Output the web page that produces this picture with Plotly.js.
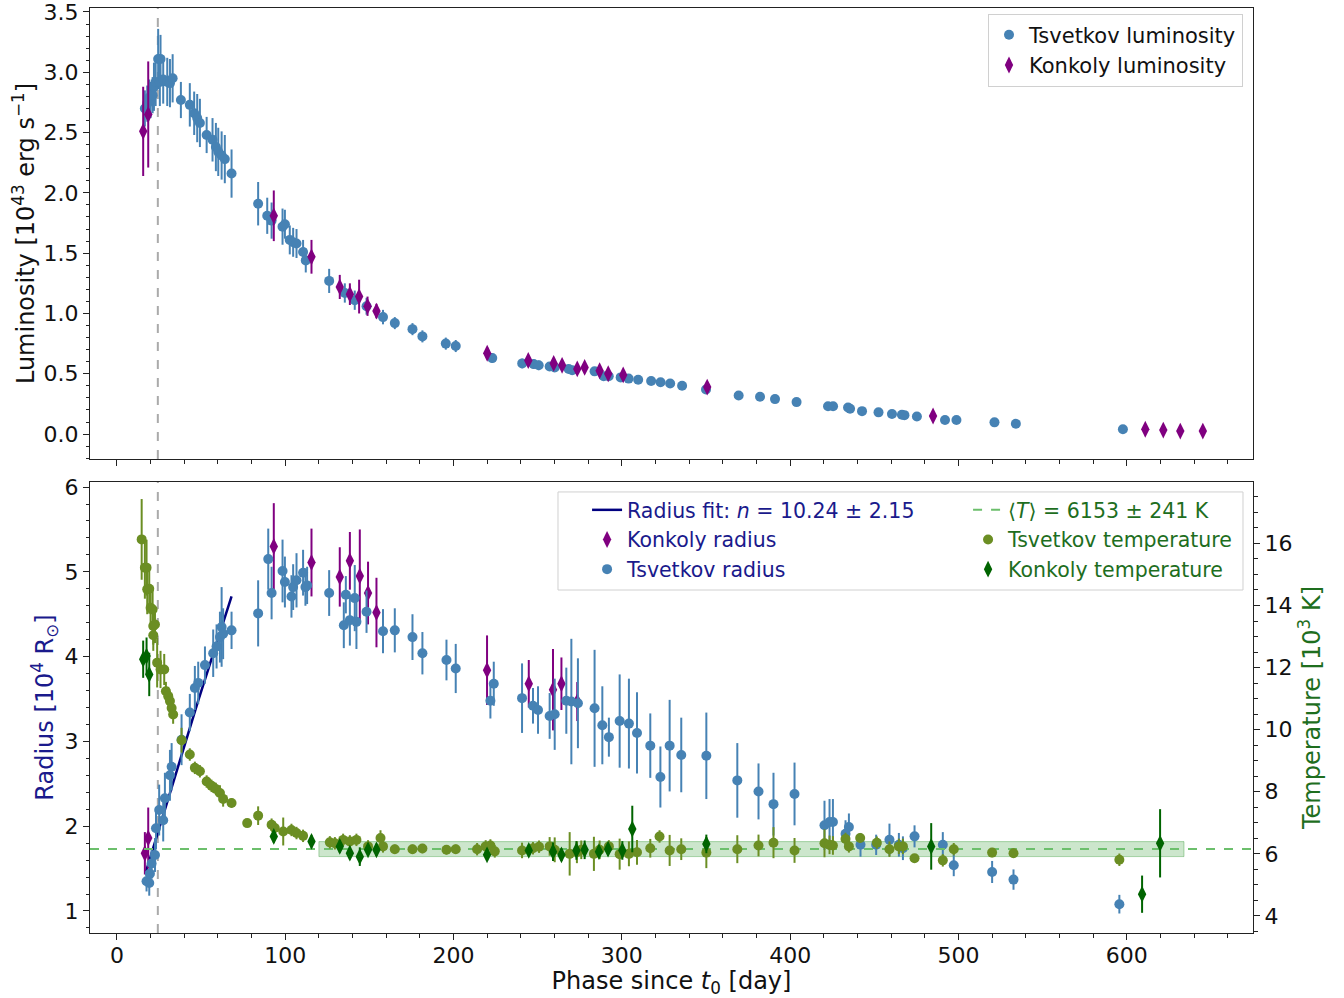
<!DOCTYPE html>
<html>
<head>
<meta charset="utf-8">
<script src="https://cdn.plot.ly/plotly-3.0.1.min.js"></script>
<style>html,body{margin:0;padding:0;background:#fff;}#chart{width:1344px;height:998px;}</style>
</head>
<body>
<div id="chart"></div>
<script>
// ---------- Data ----------
const tsvLumDay = [16.6,18.0,19.2,20.0,21.2,22.0,23.0,24.5,25.5,25.9,27.5,29.9,31.5,33.1,38.0,43.3,45.9,47.7,49.3,53.3,56.8,58.8,60.2,62.2,64.1,68.1,83.9,89.3,91.9,98.4,99.8,102.7,104.7,106.7,110.6,112.2,126.1,135.4,141.3,148.3,158.1,165.1,175.6,181.5,195.4,201.3,223.0,240.8,247.6,250.6,257.1,260.1,268.4,270.5,283.8,289.2,292.2,299.3,304.0,309.7,317.4,323.0,328.7,335.8,350.0,369.4,382.1,391.0,403.8,422.5,425.5,434.4,435.6,442.7,452.5,460.5,466.4,467.9,475.3,492.0,498.8,521.4,534.1,597.7];
const tsvLum = [2.70,2.74,2.79,2.77,2.81,2.88,2.92,3.11,2.92,3.11,2.94,2.92,2.91,2.95,2.77,2.73,2.66,2.62,2.58,2.48,2.44,2.38,2.34,2.31,2.28,2.16,1.91,1.81,1.77,1.72,1.74,1.61,1.59,1.58,1.51,1.44,1.27,1.17,1.11,1.06,0.97,0.92,0.87,0.81,0.75,0.73,0.63,0.586,0.58,0.57,0.56,0.553,0.54,0.53,0.52,0.48,0.48,0.47,0.46,0.45,0.44,0.43,0.42,0.40,0.37,0.32,0.31,0.29,0.265,0.23,0.23,0.22,0.21,0.19,0.18,0.166,0.16,0.157,0.145,0.116,0.116,0.097,0.086,0.04];
const tsvLumErr = [0.15,0.15,0.15,0.15,0.15,0.2,0.2,0.25,0.2,0.2,0.2,0.2,0.2,0.2,0.15,0.18,0.18,0.2,0.2,0.15,0.18,0.2,0.2,0.2,0.2,0.2,0.18,0.15,0.15,0.15,0.12,0.12,0.12,0.12,0.1,0.1,0.1,0.08,0.08,0.07,0.06,0.05,0.05,0.05,0.05,0.05,0.04,0.04,0.04,0.04,0.03,0.03,0.03,0.03,0.03,0.03,0.03,0.02,0.02,0.02,0.02,0.02,0.02,0.02,0.02,0.01,0.01,0.01,0.01,0.01,0.01,0.01,0.01,0.01,0.01,0.01,0.01,0.01,0.01,0.01,0.01,0.01,0.01,0.01];

const konLumDay = [15.6,18.6,93.2,115.6,132.4,138.4,143.9,148.9,154.2,220.0,244.4,259.5,264.5,273.5,277.9,286.8,291.9,300.8,350.7,484.9,611.0,621.7,631.8,645.2];
const konLum = [2.51,2.65,1.81,1.47,1.22,1.16,1.14,1.06,1.02,0.67,0.61,0.586,0.57,0.54,0.553,0.525,0.50,0.49,0.39,0.15,0.04,0.033,0.025,0.025];
const konLumErr = [0.37,0.44,0.21,0.14,0.1,0.09,0.14,0.08,0.06,0.05,0.04,0.04,0.04,0.03,0.03,0.03,0.03,0.03,0.04,0.03,0.03,0.03,0.03,0.03];

const tsvRadDay = [17.6,19.2,19.6,20.6,22.6,23.2,25.1,27.5,28.5,31.5,32.5,38.4,43.3,46.3,48.3,52.3,57.2,59.2,61.2,62.2,63.1,68.1,83.9,89.9,91.9,98.4,99.8,103.7,104.7,106.7,110.6,112.0,113.0,126.1,134.8,136.0,138.4,141.3,142.3,148.3,158.1,165.1,175.6,181.5,195.8,201.3,221.9,223.9,240.7,247.2,250.2,257.1,260.1,267.0,270.0,273.9,283.8,288.4,292.3,298.7,304.2,309.0,316.9,322.9,328.4,335.3,350.2,368.6,381.2,390.1,402.6,420.4,423.4,425.4,432.9,434.9,441.8,451.1,459.0,464.6,467.0,473.9,490.7,497.2,520.0,532.7,595.6];
const tsvRad = [1.35,1.33,1.44,1.56,1.66,1.975,2.19,2.07,2.33,2.60,2.70,3.02,3.34,3.63,3.69,3.90,4.04,4.12,4.23,4.35,4.27,4.31,4.51,5.15,4.75,5.01,4.88,4.71,4.82,4.90,4.99,4.82,4.84,4.75,4.37,4.73,4.43,4.69,4.41,4.53,4.30,4.31,4.23,4.04,3.96,3.86,3.48,3.68,3.51,3.42,3.37,3.30,3.32,3.48,3.47,3.45,3.39,3.19,3.05,3.24,3.21,3.10,2.95,2.58,2.95,2.84,2.83,2.54,2.41,2.26,2.38,2.01,2.05,2.05,1.91,1.99,1.78,1.78,1.84,1.78,1.74,1.88,1.78,1.54,1.46,1.37,1.08];
const tsvRadErr = [0.12,0.15,0.15,0.18,0.2,0.25,0.3,0.25,0.3,0.3,0.28,0.3,0.22,0.26,0.25,0.22,0.28,0.26,0.3,0.47,0.3,0.22,0.39,0.36,0.31,0.37,0.3,0.25,0.27,0.32,0.27,0.22,0.22,0.27,0.27,0.22,0.3,0.39,0.32,0.25,0.26,0.26,0.27,0.25,0.24,0.29,0.21,0.26,0.41,0.21,0.28,0.27,0.42,0.39,0.74,0.53,0.69,0.46,0.23,0.55,0.53,0.48,0.38,0.36,0.54,0.44,0.51,0.44,0.33,0.37,0.37,0.29,0.27,0.27,0.16,0.16,0.14,0.12,0.19,0.14,0.14,0.13,0.15,0.13,0.13,0.12,0.11];

const konRadDay = [16.6,18.6,93.2,115.6,132.4,138.4,144.3,149.2,154.2,219.9,244.7,259.1,264.1,273.5];
const konRad = [1.68,1.86,5.30,5.11,4.94,5.13,4.95,4.75,4.52,3.84,3.68,3.61,3.68,3.47];
const konRadErr = [0.25,0.36,0.51,0.40,0.35,0.34,0.55,0.37,0.41,0.41,0.28,0.48,0.31,0.23];

const tsvTempDay = [14.7,16.6,17.6,18.0,19.2,20.0,21.2,21.6,22.6,21.6,23.9,25.9,28.1,29.1,30.5,31.5,32.5,33.4,38.4,43.3,46.3,49.3,53.3,56.2,58.8,61.2,63.1,68.1,77.4,83.9,91.9,93.8,98.8,103.7,106.7,110.6,126.5,129.5,134.4,138.4,142.3,149.2,156.6,158.1,165.1,175.6,181.5,195.8,201.3,214.0,219.1,221.9,224.5,240.7,247.2,250.8,257.1,260.1,269.0,273.3,275.9,283.4,286.8,292.3,298.7,304.2,309.0,316.9,322.4,328.4,335.3,350.2,368.6,381.2,390.1,402.6,420.4,423.4,425.4,432.9,434.9,441.6,451.5,459.0,464.6,467.0,473.9,490.7,497.2,520.0,532.7,595.6];
const tsvTemp = [16.13,15.22,15.22,14.52,14.54,13.93,13.87,13.34,13.39,13.04,12.16,11.94,11.94,11.24,11.08,10.92,10.70,10.49,9.66,9.20,8.77,8.66,8.33,8.19,8.09,7.96,7.77,7.64,6.99,7.23,6.94,6.83,6.72,6.77,6.67,6.58,6.37,6.34,6.45,6.40,6.45,6.24,6.51,6.24,6.15,6.15,6.17,6.13,6.15,6.15,6.24,6.27,6.08,6.11,6.18,6.23,6.24,6.13,6.00,6.05,6.13,6.00,6.13,6.24,5.99,6.00,6.05,6.18,6.56,6.11,6.15,6.04,6.15,6.27,6.36,6.11,6.34,6.29,6.27,6.48,6.24,6.51,6.36,6.15,6.24,6.24,5.86,5.79,6.15,6.04,6.02,5.81];
const tsvTempErr = [1.3,1.0,0.9,0.8,0.8,0.7,0.7,0.6,0.6,0.5,0.8,0.6,0.5,0.3,0.3,0.3,0.3,0.3,0.4,0.2,0.2,0.2,0.2,0.2,0.2,0.25,0.25,0.15,0.1,0.3,0.2,0.2,0.45,0.2,0.2,0.2,0.2,0.2,0.2,0.2,0.2,0.2,0.25,0.2,0.15,0.15,0.15,0.15,0.15,0.2,0.2,0.2,0.2,0.25,0.2,0.2,0.3,0.4,0.7,0.35,0.3,0.55,0.3,0.2,0.5,0.4,0.4,0.3,0.2,0.5,0.35,0.5,0.45,0.35,0.5,0.4,0.45,0.3,0.3,0.2,0.2,0.15,0.2,0.25,0.25,0.25,0.1,0.2,0.2,0.15,0.15,0.2];

const konTempDay = [15.6,17.6,19.2,93.2,115.6,132.4,138.4,144.3,149.2,154.2,219.9,244.7,259.1,264.1,273.0,277.9,286.4,291.8,300.3,306.2,350.2,483.8,609.1,619.8];
const konTemp = [12.27,12.37,11.78,6.56,6.40,6.24,6.02,5.91,6.13,6.13,5.97,6.11,6.07,5.97,6.11,6.13,6.07,6.15,6.11,6.80,6.32,6.24,4.70,6.34];
const konTempErr = [0.6,0.6,0.7,0.2,0.2,0.2,0.2,0.3,0.2,0.2,0.2,0.15,0.3,0.2,0.3,0.3,0.2,0.2,0.3,0.75,0.3,0.75,0.6,1.1];

const fitDay = [17.2, 48.3, 68.1];
const fitRad = [1.46, 3.48, 4.71];

const tMean = 6.153, tMeanErr = 0.241;
const bandDays = [120, 634];
const tRef = 24.3;
const xRange = [-16, 675];

const lumTicks = [0.0, 0.5, 1.0, 1.5, 2.0, 2.5, 3.0, 3.5];
const radTicks = [1, 2, 3, 4, 5, 6];
const tempTicks = [4, 6, 8, 10, 12, 14, 16];
const dayTicks = [0, 100, 200, 300, 400, 500, 600];

// ---------- Styles ----------
const FONT = 'DejaVu Sans, Liberation Sans, sans-serif';
const C_TSV = '#4682b4', C_KON = '#800080', C_OLIVE = '#6b8e23', C_DKG = '#006400';
const C_NAVY = '#000080', C_MEAN = '#6cbf6c';

function pts(x, y, err, color, symbol, name, xa, ya, legend) {
  const tall = symbol === 'diamond-tall';
  return {
    type: 'scatter', mode: 'markers', x: x, y: y, name: name,
    xaxis: xa, yaxis: ya, legend: legend,
    marker: {color: color, size: tall ? 12 : 10, symbol: symbol, line: {width: 0}},
    error_y: {type: 'data', array: err, visible: true, color: color, thickness: 2, width: 0}
  };
}

const traces = [
  pts(tsvLumDay, tsvLum, tsvLumErr, C_TSV, 'circle', 'Tsvetkov luminosity', 'x', 'y', 'legend'),
  pts(konLumDay, konLum, konLumErr, C_KON, 'diamond-tall', 'Konkoly luminosity', 'x', 'y', 'legend'),
  {type:'scatter', mode:'lines', x: fitDay, y: fitRad, xaxis:'x2', yaxis:'y2', legend:'legend2',
   name:'Radius fit: <i>n</i> = 10.24 ± 2.15', line:{color:C_NAVY, width:2.5}},
  pts(konRadDay, konRad, konRadErr, C_KON, 'diamond-tall', 'Konkoly radius', 'x2', 'y2', 'legend2'),
  pts(tsvRadDay, tsvRad, tsvRadErr, C_TSV, 'circle', 'Tsvetkov radius', 'x2', 'y2', 'legend2'),
  {type:'scatter', mode:'lines', x: xRange, y: [tMean, tMean], xaxis:'x2', yaxis:'y3', legend:'legend3',
   name:'⟨<i>T</i>⟩ = 6153 ± 241 K', line:{color:C_MEAN, width:2, dash:'dash'}},
  pts(tsvTempDay, tsvTemp, tsvTempErr, C_OLIVE, 'circle', 'Tsvetkov temperature', 'x2', 'y3', 'legend3'),
  pts(konTempDay, konTemp, konTempErr, C_DKG, 'diamond-tall', 'Konkoly temperature', 'x2', 'y3', 'legend3')
];

const tickFont = {family: FONT, size: 22, color: '#111'};
const axisBase = {
  showline: true, linecolor: '#222', linewidth: 1, mirror: true,
  ticks: 'outside', ticklen: 6, tickwidth: 1, tickcolor: '#222',
  showgrid: false, zeroline: false, tickfont: tickFont, ticklabeloverflow: 'allow'
};
const minorTick = (d) => ({dtick: d, tick0: 0, ticklen: 3.5, tickcolor: '#222', ticks: 'outside'});

const topLow = 0.5124, botHigh = 0.4876;

const layout = {
  width: 1344, height: 998,
  margin: {l: 90, r: 91, t: 8, b: 65},
  paper_bgcolor: '#fff', plot_bgcolor: '#fff',
  font: {family: FONT, size: 20, color: '#111'},
  showlegend: true,
  xaxis: Object.assign({}, axisBase, {
    domain: [0, 1], anchor: 'y', range: xRange, tickmode: 'array', tickvals: dayTicks, showticklabels: false,
    minor: minorTick(20)
  }),
  yaxis: Object.assign({}, axisBase, {
    domain: [topLow, 1], anchor: 'x', range: [-0.207, 3.533], tickmode: 'array', tickvals: lumTicks,
    ticktext: lumTicks.map(v => v.toFixed(1)),
    minor: minorTick(0.1),
    title: {text: 'Luminosity [10<sup>43</sup> erg s<sup>−1</sup>]', font: {family: FONT, size: 24, color: '#111'}, standoff: 2}
  }),
  xaxis2: Object.assign({}, axisBase, {
    domain: [0, 1], anchor: 'y2', matches: 'x', range: xRange, tickmode: 'array', tickvals: dayTicks,
    ticklabelstandoff: -3,
    minor: minorTick(20),
    title: {text: 'Phase since <i>t</i><sub>0</sub> [day]', font: {family: FONT, size: 24, color: '#111'}, standoff: 9}
  }),
  yaxis2: Object.assign({}, axisBase, {
    domain: [0, botHigh], anchor: 'x2', range: [0.74, 6.06], tickmode: 'array', tickvals: radTicks,
    minor: minorTick(0.2),
    title: {text: 'Radius [10<sup>4</sup> R<sub>⊙</sub>]', font: {family: FONT, size: 24, color: '#1a1a8c'}, standoff: 4}
  }),
  yaxis3: Object.assign({}, axisBase, {
    overlaying: 'y2', side: 'right', anchor: 'x2', range: [3.45, 17.98], tickmode: 'array', tickvals: tempTicks,
    minor: minorTick(0.5),
    title: {text: 'Temperature [10<sup>3</sup> K]', font: {family: FONT, size: 24, color: '#1e6e1e'}, standoff: 11}
  }),
  legend: {
    x: 0.9914, xanchor: 'right', y: 0.994, yanchor: 'top',
    bgcolor: 'rgba(255,255,255,0.9)', bordercolor: '#d0d0d0', borderwidth: 1,
    font: {family: FONT, size: 21, color: '#111'}
  },
  legend2: {
    x: 0.4274, xanchor: 'left', y: 0.4789, yanchor: 'top',
    bgcolor: 'rgba(0,0,0,0)', borderwidth: 0,
    font: {family: FONT, size: 20.5, color: '#1a1a8c'}
  },
  legend3: {
    x: 0.755, xanchor: 'left', y: 0.4789, yanchor: 'top',
    bgcolor: 'rgba(0,0,0,0)', borderwidth: 0,
    font: {family: FONT, size: 20.5, color: '#1e6e1e'}
  },
  shapes: [
    {type: 'rect', xref: 'x2', yref: 'y3', x0: bandDays[0], x1: bandDays[1],
     y0: tMean - tMeanErr, y1: tMean + tMeanErr, fillcolor: 'rgba(0,128,0,0.2)',
     line: {color: 'rgba(0,128,0,0.3)', width: 1}, layer: 'below'},
    {type: 'line', xref: 'x', yref: 'y domain', x0: tRef, x1: tRef, y0: 0, y1: 1,
     line: {color: '#aaaaaa', width: 2, dash: 'dash'}, layer: 'below'},
    {type: 'line', xref: 'x2', yref: 'y2 domain', x0: tRef, x1: tRef, y0: 0, y1: 1,
     line: {color: '#aaaaaa', width: 2, dash: 'dash'}, layer: 'below'},
    {type: 'rect', xref: 'paper', yref: 'paper', x0: 0.4024, x1: 0.9914, y0: 0.3708, y1: 0.4768,
     fillcolor: 'rgba(255,255,255,0.9)', line: {color: '#d0d0d0', width: 1}, layer: 'above'}
  ]
};

Plotly.newPlot('chart', traces, layout, {displayModeBar: false, staticPlot: true});
</script>
</body>
</html>
